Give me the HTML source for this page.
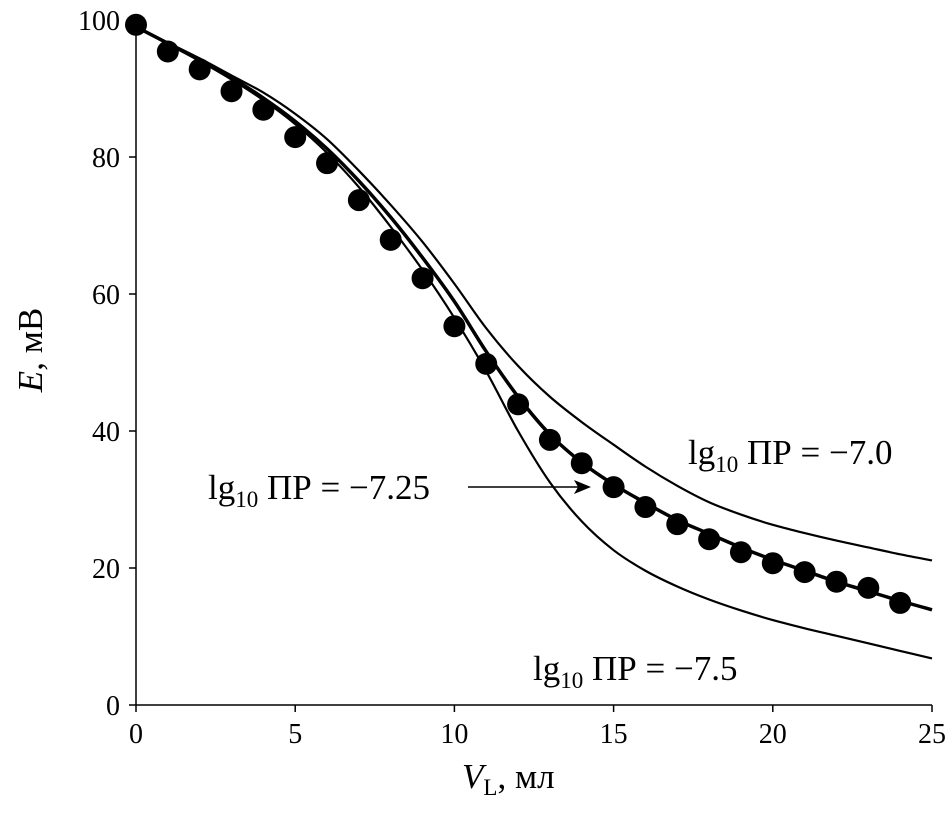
<!DOCTYPE html>
<html><head><meta charset="utf-8"><style>
body{margin:0;background:#fff}
svg text{font-family:"Liberation Serif",serif;fill:#000}
</style></head><body>
<svg id="c" width="952" height="837" style="position:absolute;left:0;top:0"></svg>
<script>
const xs=[0,1,2,3,4,5,6,7,8,9,10,11,12,13,14,15,16,17,18,19,20,21,22,23,24];
const pts=[99.3,95.4,92.8,89.6,86.9,82.9,79.1,73.7,67.9,62.3,55.3,49.8,43.9,38.7,35.3,31.8,28.9,26.4,24.2,22.3,20.7,19.4,18.0,17.1,14.9];
const cx=[0,1,2,3,4,5,6,7,8,9,10,11,12,13,14,15,16,17,18,19,20,21,22,23,24,25];
const cMid=[99,96.6,94.2,91.6,88.6,85.2,81.2,76.5,71.2,65.3,58.9,51.6,45,39.5,35.4,32.2,29.5,27,25,23,21.2,19.6,18,16.6,15.2,13.9];
const cUp=[99,96.7,94.4,91.9,89.4,86.3,82.6,78,73,67.6,61.5,55,49.5,45,41.3,38,34.8,32,29.6,27.8,26.3,25.1,24,23,22,21.1];
const cLo=[99,96.5,94,91.3,88.3,84.8,80.6,75.6,69.8,63.5,56.5,48.7,40,32.5,26.8,22.6,19.6,17.3,15.4,13.8,12.4,11.2,10.1,9,7.9,6.8];
const xT=[0,5,10,15,20,25], yT=[0,20,40,60,80,100];
const X=v=>136+v*31.84, Y=v=>705-v*6.85;
const s=document.getElementById('c'),NS='http://www.w3.org/2000/svg';
function mk(t,a,p){const e=document.createElementNS(NS,t);for(const k in a)e.setAttribute(k,a[k]);(p||s).appendChild(e);return e;}
let e;
e=mk('line',{x1:136,y1:705,x2:932,y2:705,stroke:'#000','stroke-width':1.5});


e=mk('line',{x1:136,y1:705,x2:136,y2:20,stroke:'#000','stroke-width':1.5});


xT.forEach(v=>{mk('line',{x1:X(v),y1:705,x2:X(v),y2:712,stroke:'#000','stroke-width':1.5});
e=mk('text',{x:X(v),y:743,'font-size':28,'text-anchor':'middle'});e.textContent=v;

});
yT.forEach(v=>{mk('line',{x1:129,y1:Y(v),x2:136,y2:Y(v),stroke:'#000','stroke-width':1.5});
e=mk('text',{x:120,y:Y(v)+10,'font-size':28,'text-anchor':'end'});e.textContent=v;

});
function path(arr,w,name){let p=cx.map((v,i)=>[X(v),Y(arr[i])]);let d='M'+p[0];
for(let i=0;i<p.length-1;i++){const p0=p[Math.max(0,i-1)],p1=p[i],p2=p[i+1],p3=p[Math.min(p.length-1,i+2)];
d+=' C'+(p1[0]+(p2[0]-p0[0])/6)+','+(p1[1]+(p2[1]-p0[1])/6)+' '+(p2[0]-(p3[0]-p1[0])/6)+','+(p2[1]-(p3[1]-p1[1])/6)+' '+p2;}
const e=mk('path',{d:d,fill:'none',stroke:'#000','stroke-width':w});

}
path(cUp,2.2,'curve-lg-minus-7-0');path(cLo,2.2,'curve-lg-minus-7-5');path(cMid,3.5,'curve-lg-minus-7-25');
xs.forEach((v,i)=>{const e=mk('circle',{cx:X(v),cy:Y(pts[i]),r:11,fill:'#000'});

});
</script>
<svg width="952" height="837" style="position:absolute;left:0;top:0">
<text x="462" y="788" font-size="35"><tspan font-style="italic">V</tspan><tspan font-size="23" dy="7">L</tspan><tspan dy="-7">, мл</tspan></text>
<text transform="translate(42,350) rotate(-90)" font-size="35" text-anchor="middle"><tspan font-style="italic">E</tspan>, мВ</text>
<text x="688" y="464" font-size="35">lg<tspan font-size="23" dy="8">10</tspan><tspan dy="-8"> ПР = −7.0</tspan></text>
<text x="208" y="499" font-size="35">lg<tspan font-size="23" dy="8">10</tspan><tspan dy="-8"> ПР = −7.25</tspan></text>
<text x="533" y="680" font-size="35">lg<tspan font-size="23" dy="8">10</tspan><tspan dy="-8"> ПР = −7.5</tspan></text>
<g><line x1="468" y1="487" x2="582" y2="487" stroke="#000" stroke-width="1.5"/><path d="M591,487 L574,480 L578,487 L574,494 Z" fill="#000"/></g>
</svg>
</body></html>
